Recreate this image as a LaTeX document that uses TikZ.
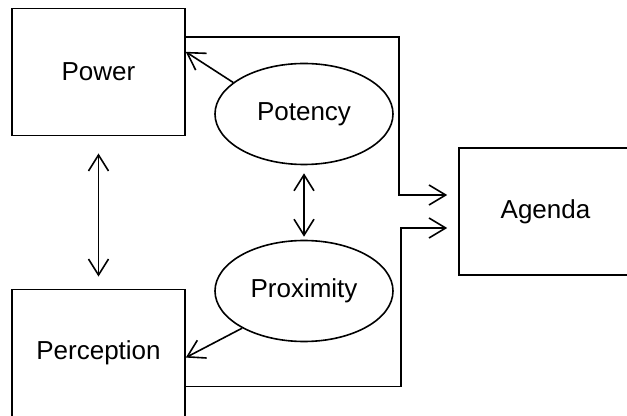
\documentclass[tikz,border=0pt]{standalone}
\usepackage{fontspec}
\setmainfont{Liberation Sans}
\usetikzlibrary{shapes,arrows.meta,positioning,calc}

\begin{document}
\begin{tikzpicture}[x=0.75pt, y=-0.75pt, line width=1.2pt,
    box/.style={draw, rectangle, minimum width=129.75pt, minimum height=95.5pt, inner sep=0pt, font=\fontsize{19.5}{23}\selectfont},
    blob/.style={draw, ellipse, minimum width=133.5pt, minimum height=75.75pt, inner sep=0pt, font=\fontsize{19.5}{23}\selectfont},
    tip/.style={-{Straight Barb[length=12.5pt, width=15pt]}},
    twotip/.style={{Straight Barb[length=12pt, width=15pt]}-{Straight Barb[length=12pt, width=15pt]}}]
    \useasboundingbox (0,0) rectangle (627,416);

    % Boxes and ellipses
    \node[box] (power) at (98.5,72) {Power};
    \node[box] (perception) at (98.5,353) {Perception};
    \node[box] (agenda) at (545.5,211.5) {Agenda};
    \node[blob] (potency) at (304,114) {Potency};
    \node[blob] (proximity) at (304,291) {Proximity};

    % Inputs of the agenda
    \coordinate (in1) at ($(agenda.west)+(0,-16.5)$);
    \coordinate (in2) at ($(agenda.west)+(0,16.5)$);

    % Connectors
    \draw[tip] (potency.156) -- (power.13);
    \draw[tip] (proximity.211) -- (perception.-3);
    \draw[twotip, shorten <=12.75pt, shorten >=9pt] (power.south) -- (perception.north);
    \draw[twotip, shorten <=6pt, shorten >=2.25pt] (potency.south) -- (proximity.north);
    \draw[tip, shorten >=8.25pt] (power.22) -| ($(in1)+(-59,0)$) -- (in1);
    \draw[tip, shorten >=8.25pt] (perception.-21) -| ($(in2)+(-57,0)$) -- (in2);
\end{tikzpicture}
\end{document}
